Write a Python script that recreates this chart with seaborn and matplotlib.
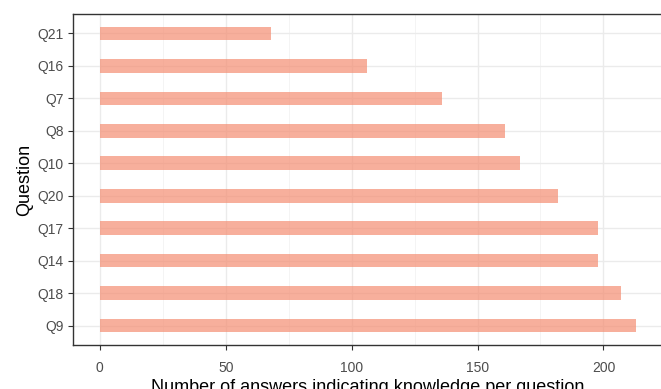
import matplotlib
matplotlib.use("Agg")
import matplotlib.pyplot as plt
import seaborn as sns
import pandas as pd
from matplotlib.ticker import MultipleLocator

questions = ["Q21", "Q16", "Q7", "Q8", "Q10", "Q20", "Q17", "Q14", "Q18", "Q9"]
counts = [68, 106, 136, 161, 167, 182, 198, 198, 207, 213]

df = pd.DataFrame({"Question": questions, "Count": counts})

sns.set_theme(style="white")
plt.rcParams["font.family"] = ["Liberation Sans", "DejaVu Sans"]

fig = plt.figure(figsize=(6.61, 3.89), dpi=100)
ax = fig.add_axes([73 / 661, 44 / 389, 590 / 661, 331 / 389])

sns.barplot(data=df, x="Count", y="Question", order=questions, orient="h",
            color="#F48E73", alpha=0.7, width=0.42, saturation=1, linewidth=0,
            ax=ax, zorder=3)

span = max(counts)
ax.set_xlim(-0.05 * span, 1.05 * span)
ax.set_ylim(len(questions) - 0.4, -0.6)

ax.xaxis.set_major_locator(MultipleLocator(50))
ax.xaxis.set_minor_locator(MultipleLocator(25))
ax.grid(which="major", color="#EBEBEB", linewidth=1.0, zorder=0)
ax.grid(which="minor", axis="x", color="#F2F2F2", linewidth=0.6, zorder=0)
ax.set_axisbelow(True)

for side in ["left", "bottom", "top", "right"]:
    ax.spines[side].set_visible(True)
    ax.spines[side].set_color("#333333")
    ax.spines[side].set_linewidth(1.0)

ax.tick_params(axis="both", which="major", length=3.5, width=0.8, color="#333333",
               labelsize=10, labelcolor="#4D4D4D", pad=3, bottom=True, left=True)
ax.tick_params(axis="x", which="major", pad=8)
ax.tick_params(axis="x", which="minor", length=0)

ax.set_xlabel("Number of answers indicating knowledge per question", fontsize=13,
              color="black", labelpad=3)
ax.set_ylabel("Question", fontsize=13, color="black", labelpad=3)

fig.savefig("out.png", dpi=100)
